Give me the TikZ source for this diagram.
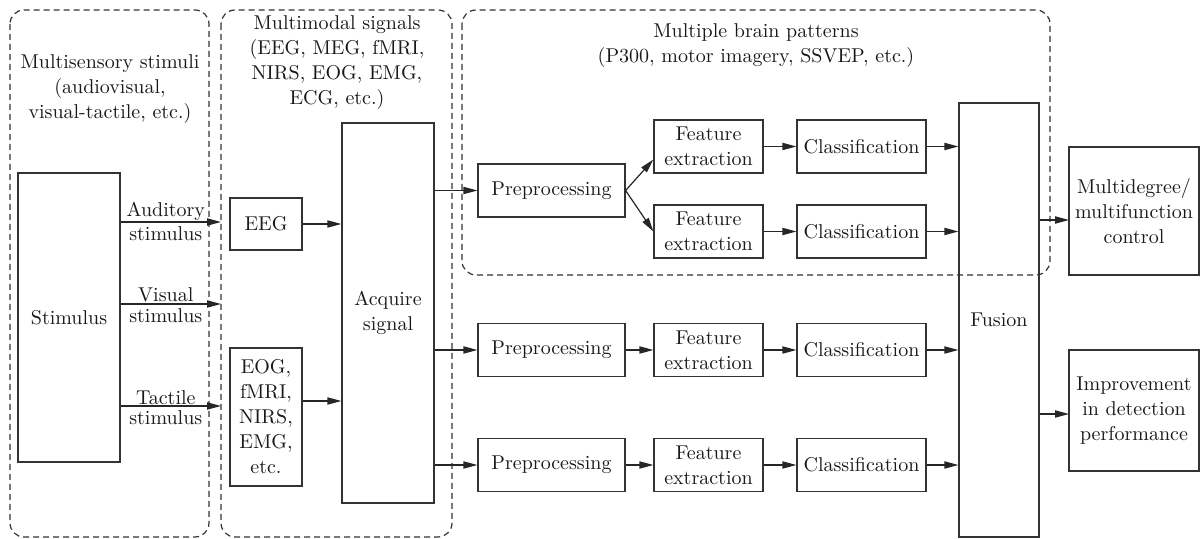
\documentclass[tikz,border=0pt]{standalone}
\usetikzlibrary{arrows.meta}
\usetikzlibrary{calc}

\begin{document}
\begin{tikzpicture}[x=0.5pt, y=-0.5pt,
  every node/.style={font=\fontsize{10}{12.5}\selectfont, text=black!90},
  blk/.style={draw=black!80, line width=0.6pt, align=center, inner sep=1pt},
  pre/.style={blk, minimum width=73.5pt, minimum height=26.5pt},
  feat/.style={blk, minimum width=54.5pt, minimum height=26.5pt},
  cls/.style={blk, minimum width=64.5pt, minimum height=26.5pt},
  arr/.style={draw=black!85, line width=0.6pt, -{Triangle[length=7pt,width=3.6pt]}},
  grp/.style={draw=black!80, line width=0.6pt, dash pattern=on 3pt off 2pt, rounded corners=7pt}]
\useasboundingbox (0,0) rectangle (1200,539);

% dashed groups
\draw[grp] (10,10) rectangle (209,537);
\draw[grp] (221,10) rectangle (452,537);
\draw[grp] (462,10) rectangle (1050,275);
\node[align=center] (tstim) at (110,89) {Multisensory stimuli\\(audiovisual,\\visual-tactile, etc.)};
\node[align=center] (tsig) at (337,63) {Multimodal signals\\(EEG, MEG, fMRI,\\NIRS, EOG, EMG,\\ECG, etc.)};
\node[align=center] (tpat) at (756,46) {Multiple brain patterns\\(P300, motor imagery, SSVEP, etc.)};

% blocks
\node[blk, minimum width=51pt, minimum height=144.5pt] (stim) at (69,317.5) {Stimulus};
\node[blk, minimum width=36pt, minimum height=26pt] (eeg) at (266,224) {EEG};
\node[blk, minimum width=36pt, minimum height=69pt] (eog) at (266,417) {EOG,\\fMRI,\\NIRS,\\EMG,\\etc.};
\node[blk, minimum width=46pt, minimum height=190pt] (acq) at (388,313) {Acquire\\signal};

\node[pre] (pre1) at (551.5,190.5) {Preprocessing};
\node[pre] (pre2) at (551.5,350) {Preprocessing};
\node[pre] (pre3) at (551.5,465) {Preprocessing};
\node[feat] (fe1) at (708.5,146.5) {Feature\\extraction};
\node[feat] (fe2) at (708.5,231.5) {Feature\\extraction};
\node[feat] (fe3) at (708.5,350) {Feature\\extraction};
\node[feat] (fe4) at (708.5,465) {Feature\\extraction};
\node[cls] (cl1) at (861.5,146.5) {Classification};
\node[cls] (cl2) at (861.5,231.5) {Classification};
\node[cls] (cl3) at (861.5,350) {Classification};
\node[cls] (cl4) at (861.5,465) {Classification};

\node[blk, minimum width=40pt, minimum height=217pt] (fus) at (999,320) {Fusion};
\node[blk, minimum width=65pt, minimum height=64pt] (multi) at (1134,211) {Multidegree/\\multifunction\\control};
\node[blk, minimum width=65pt, minimum height=60.5pt] (impr) at (1134,410.5) {Improvement\\in detection\\performance};

% stimulus arrows
\coordinate (aud) at (221,222);
\coordinate (vis) at (221,304);
\coordinate (tac) at (221,406);
\draw[arr] (stim.east |- aud) -- node[pos=0.45, above, inner sep=0.5pt] {Auditory} node[pos=0.45, below, inner sep=2pt] {stimulus} (aud);
\draw[arr] (stim.east |- vis) -- node[pos=0.45, above, inner sep=0.5pt] {Visual} node[pos=0.45, below, inner sep=2pt] {stimulus} (vis);
\draw[arr] (stim.east |- tac) -- node[pos=0.45, above, inner sep=0.5pt] {Tactile} node[pos=0.45, below, inner sep=2pt] {stimulus} (tac);

\draw[arr] (eeg.east) -- (eeg.east -| acq.west);
\draw[arr] ([yshift=8pt]eog.east) -- ([yshift=8pt]eog.east -| acq.west);
\draw[arr] (acq.east |- pre1.west) -- (pre1.west);
\draw[arr] (acq.east |- pre2.west) -- (pre2.west);
\draw[arr] (acq.east |- pre3.west) -- (pre3.west);

\draw[arr] (pre1.east) -- ([yshift=-6.5pt]fe1.west);
\draw[arr] (pre1.east) -- (fe2.west);
\draw[arr] (pre2) -- (fe3);
\draw[arr] (pre3) -- (fe4);
\foreach \i in {1,...,4} {
  \draw[arr] (fe\i) -- (cl\i);
  \draw[arr] (cl\i.east) -- (cl\i.east -| fus.west);
}

\coordinate (m1) at (1069,220);
\coordinate (m2) at (1069,414);
\draw[arr] (fus.east |- m1) -- (m1);
\draw[arr] (fus.east |- m2) -- (m2);
\end{tikzpicture}
\end{document}
